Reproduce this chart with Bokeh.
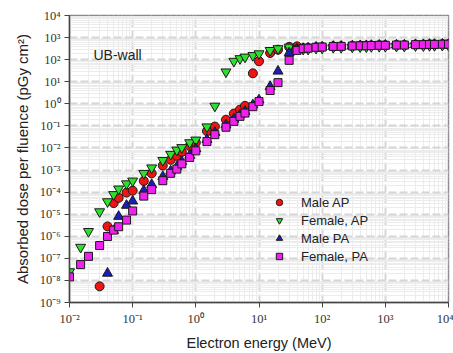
import numpy as np
from bokeh.plotting import figure
from bokeh.models import (ColumnDataSource, FixedTicker, CustomJSTickFormatter,
                          Legend, LegendItem, Label, Range1d)
from bokeh.embed import file_html
from bokeh.resources import INLINE

nan = float("nan")

energy = [0.01, 0.015, 0.02, 0.03, 0.04, 0.05, 0.06, 0.08, 0.1, 0.15, 0.2, 0.3, 0.4,
          0.5, 0.6, 0.8, 1, 1.5, 2, 3, 4, 5, 6, 8, 10, 15, 20, 30, 40, 50, 60, 80,
          100, 150, 200, 300, 400, 500, 600, 800, 1000, 1500, 2000, 3000, 4000,
          5000, 6000, 8000, 10000]

male_ap = [nan, nan, nan, 5.4e-9, 2.8e-6, 3.2e-5, 5.5e-5, 9.5e-5, 1.17e-4, 3.2e-4,
           7.1e-4, 1.6e-3, 2.9e-3, 4.4e-3, 6.6e-3, 1.23e-2, 1.74e-2, 5.8e-2, 9.3e-2,
           0.19, 0.36, 0.54, 0.81, 24, 85, 200, 282, 380, 400, 330, 340, 365, 375,
           400, 405, 420, 430, 430, 440, 450, 450, 460, 460, 480, 480, 490, 490,
           500, 500]

female_ap = [2.5e-8, 3.2e-7, 1.66e-6, 1.3e-5, 3.7e-5, 7.8e-5, 1.4e-4, 2.4e-4, 3.2e-4,
             7.1e-4, 1.26e-3, 2.75e-3, 5.2e-3, 8.1e-3, 1.05e-2, 1.74e-2, 2.3e-2,
             9.1e-2, 0.79, 28, 85, 112, 132, 155, 186, 263, 316, 372, 330, 300, 300,
             330, 335, 360, 360, 375, 385, 385, 395, 400, 400, 410, 410, 430, 430,
             440, 440, 450, 450]

male_pa = [nan, nan, nan, nan, 2.1e-8, 1.8e-6, 7.9e-6, 2.5e-5, 3.9e-5, 1.17e-4,
           2.2e-4, 5.0e-4, 9.0e-4, 1.4e-3, 2.4e-3, 4.6e-3, 9.2e-3, 2.4e-2, 5.0e-2,
           0.11, 0.2, 0.32, 0.45, 0.89, 1.5, 6.0, 30, 200, 300, 320, 335, 365, 375,
           398, 402, 418, 428, 428, 438, 448, 448, 458, 458, 478, 478, 488, 488,
           500, 500]

female_pa = [1.45e-8, 5.2e-8, 1.23e-7, 3.8e-7, 9.8e-7, 1.9e-6, 2.7e-6, 5.4e-6, 1.4e-5,
             6.6e-5, 1.3e-4, 3.3e-4, 7.1e-4, 1.1e-3, 1.9e-3, 3.7e-3, 7.4e-3, 1.95e-2,
             4.0e-2, 8.7e-2, 0.16, 0.27, 0.38, 0.74, 1.26, 4.0, 9.1, 93, 263, 316, 331,
             363, 372, 398, 400, 417, 427, 427, 437, 447, 447, 457, 457, 479, 479,
             490, 490, 501, 501]

series_names = ["Male AP", "Female, AP", "Male PA", "Female, PA"]
series_values = [male_ap, female_ap, male_pa, female_pa]
markers = ["circle", "inverted_triangle", "triangle", "square"]
sizes = [9, 10, 10, 8]
colors = ["#ee1515", "#2ee02e", "#1c1cb8", "#f020f0"]

x_decades = list(range(-2, 5))
y_decades = list(range(-9, 5))

p = figure(width=453, height=353, x_axis_type="log", y_axis_type="log",
           output_backend="svg", toolbar_location=None,
           x_range=Range1d(1e-2, 1e4), y_range=Range1d(1e-9, 1e4),
           min_border_left=69, min_border_right=5, min_border_top=15,
           min_border_bottom=48)

p.background_fill_color = "white"
p.border_fill_color = "white"
p.outline_line_color = "#8a8a8a"
p.outline_line_width = 1.5

xmaj = [10.0 ** d for d in x_decades]
ymaj = [10.0 ** d for d in y_decades]
xmin = [k * 10.0 ** d for d in x_decades[:-1] for k in range(2, 10)]
ymin = [k * 10.0 ** d for d in y_decades[:-1] for k in range(2, 10)]

fmt = CustomJSTickFormatter(code="""
const e = Math.round(Math.log10(tick));
const sup = {'-':'\u207b','0':'\u2070','1':'\u00b9','2':'\u00b2','3':'\u00b3','4':'\u2074',
             '5':'\u2075','6':'\u2076','7':'\u2077','8':'\u2078','9':'\u2079'};
return '10' + String(e).split('').map(c => sup[c]).join('');
""")

p.xaxis.ticker = FixedTicker(ticks=xmaj, minor_ticks=xmin)
p.yaxis.ticker = FixedTicker(ticks=ymaj, minor_ticks=ymin)
for ax in (p.xaxis[0], p.yaxis[0]):
    ax.formatter = fmt
    ax.major_label_text_font = "Liberation Serif"
    ax.major_label_text_font_size = "12.5px"
    ax.major_label_text_color = "#333333"
    ax.major_tick_in = 0
    ax.major_tick_out = 5
    ax.minor_tick_in = 0
    ax.minor_tick_out = 0
    ax.axis_line_color = "#444444"
    ax.axis_line_width = 1.5
    ax.major_tick_line_color = "#444444"
    ax.axis_label_text_font = "Liberation Sans"
    ax.axis_label_text_font_style = "normal"
    ax.axis_label_text_color = "#222222"
    ax.major_label_standoff = 4

p.xaxis.axis_label = "Electron energy (MeV)"
p.xaxis.axis_label_text_font_size = "14.5px"
p.xaxis.axis_label_standoff = 6
p.yaxis.axis_label = "Absorbed dose per fluence (pGy cm\u00b2)"
p.yaxis.axis_label_text_font_size = "15px"
p.yaxis.axis_label_standoff = 6

for g in (p.xgrid[0], p.ygrid[0]):
    g.grid_line_color = "#d6d6d6"
    g.grid_line_width = 2
    g.grid_line_dash = "8 3"
    g.minor_grid_line_color = "#ececec"
    g.minor_grid_line_width = 1

items = []
for name, vals, mk, sz, col in zip(series_names, series_values, markers, sizes, colors):
    src = ColumnDataSource(data=dict(x=energy, y=np.array(vals, dtype=float)))
    r = p.scatter("x", "y", source=src, marker=mk, size=sz, fill_color=col,
                  line_color="#1a1a1a", line_width=1)
    items.append(LegendItem(label=name, renderers=[r]))

legend = Legend(items=items, location=(202, 38), padding=0, margin=0,
                glyph_width=16, glyph_height=16, label_height=16, spacing=2,
                label_standoff=14, label_text_font="Liberation Sans",
                label_text_font_size="13px", label_text_color="#222222",
                background_fill_alpha=0, border_line_alpha=0)
p.add_layout(legend)

p.add_layout(Label(x=24, y=248, x_units="screen", y_units="screen", text="UB-wall",
                   text_font="Liberation Sans", text_font_size="14px",
                   text_baseline="middle", text_color="#222222"))

open("out.html", "w").write(file_html(p, INLINE))
